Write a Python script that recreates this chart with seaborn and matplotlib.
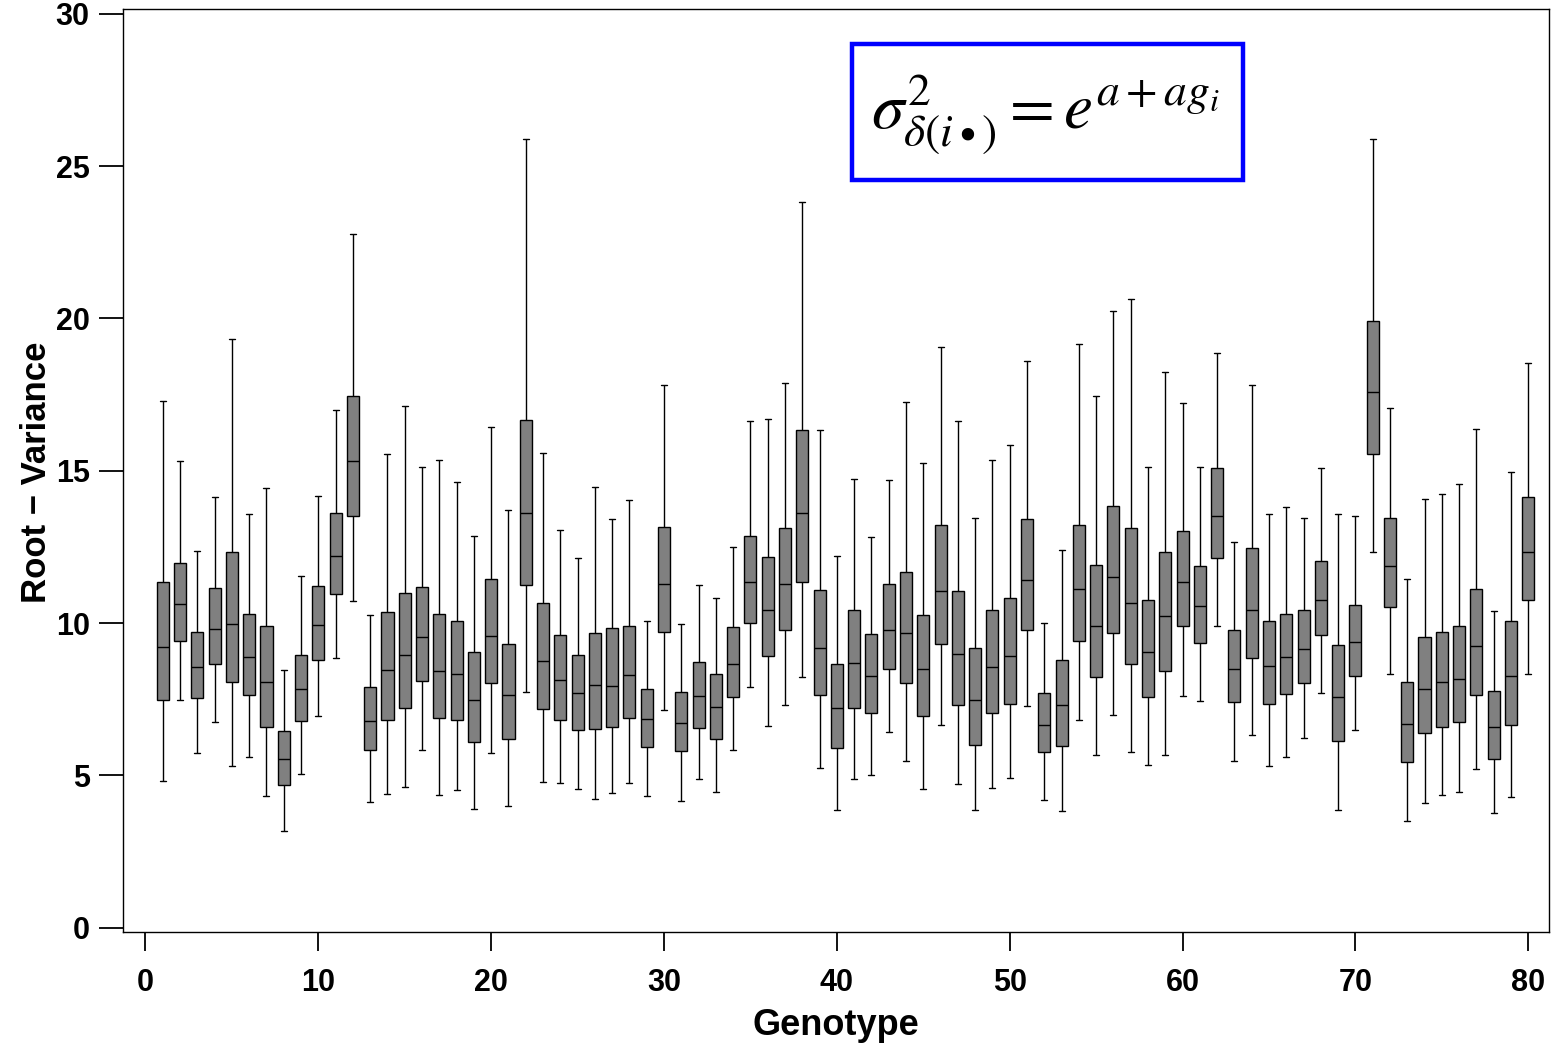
import numpy as np
import pandas as pd
import seaborn as sns
import matplotlib
matplotlib.use("Agg")
import matplotlib.pyplot as plt
from matplotlib.patches import Rectangle

# Per-genotype summary of the root-variance draws
genotype = list(range(1, 81))

whisker_low = [4.82, 7.49, 5.75, 6.76, 5.31, 5.60, 4.31, 3.18, 5.05, 6.95,
               8.85, 10.72, 4.14, 4.38, 4.61, 5.85, 4.36, 4.53, 3.91, 5.75,
               4.00, 7.73, 4.78, 4.75, 4.54, 4.22, 4.41, 4.74, 4.33, 7.16,
               4.17, 4.89, 4.46, 5.82, 7.89, 6.62, 7.30, 8.23, 5.25, 3.85,
               4.88, 5.02, 6.42, 5.47, 4.54, 6.64, 4.73, 3.88, 4.59, 4.92,
               7.27, 4.20, 3.84, 6.83, 5.66, 7.00, 5.76, 5.33, 5.66, 7.60,
               7.43, 9.89, 5.48, 6.33, 5.31, 5.61, 6.22, 7.69, 3.86, 6.49,
               12.33, 8.34, 3.51, 4.11, 4.35, 4.45, 5.20, 3.76, 4.29, 8.32]

q1 = [7.49, 9.42, 7.53, 8.67, 8.08, 7.64, 6.58, 4.67, 6.80, 8.80,
      10.94, 13.51, 5.85, 6.81, 7.20, 8.11, 6.88, 6.81, 6.10, 8.03,
      6.19, 11.25, 7.19, 6.83, 6.48, 6.54, 6.58, 6.90, 5.93, 9.70,
      5.79, 6.57, 6.19, 7.59, 10.02, 8.92, 9.77, 11.34, 7.65, 5.91,
      7.22, 7.04, 8.50, 8.02, 6.96, 9.33, 7.30, 6.01, 7.04, 7.35,
      9.77, 5.76, 5.96, 9.41, 8.24, 9.69, 8.65, 7.57, 8.44, 9.89,
      9.36, 12.13, 7.40, 8.84, 7.35, 7.68, 8.02, 9.61, 6.13, 8.28,
      15.56, 10.52, 5.43, 6.38, 6.60, 6.74, 7.63, 5.54, 6.66, 10.76]

median = [9.23, 10.62, 8.55, 9.82, 9.96, 8.88, 8.08, 5.53, 7.84, 9.93,
          12.19, 15.32, 6.79, 8.46, 8.95, 9.54, 8.43, 8.33, 7.49, 9.59,
          7.64, 13.63, 8.75, 8.14, 7.69, 7.97, 7.93, 8.30, 6.86, 11.28,
          6.72, 7.60, 7.24, 8.66, 11.34, 10.43, 11.28, 13.62, 9.18, 7.21,
          8.70, 8.28, 9.79, 9.69, 8.51, 11.07, 9.00, 7.48, 8.57, 8.92,
          11.40, 6.67, 7.30, 11.11, 9.92, 11.51, 10.66, 9.04, 10.22, 11.36,
          10.55, 13.51, 8.48, 10.44, 8.60, 8.90, 9.14, 10.75, 7.56, 9.39,
          17.58, 11.88, 6.68, 7.83, 8.06, 8.17, 9.25, 6.58, 8.27, 12.34]

q3 = [11.34, 11.97, 9.71, 11.15, 12.35, 10.30, 9.89, 6.46, 8.95, 11.23,
      13.60, 17.46, 7.89, 10.38, 10.99, 11.17, 10.29, 10.08, 9.05, 11.45,
      9.31, 16.67, 10.65, 9.61, 8.94, 9.67, 9.83, 9.89, 7.84, 13.14,
      7.75, 8.73, 8.34, 9.86, 12.85, 12.16, 13.13, 16.35, 11.08, 8.66,
      10.43, 9.64, 11.28, 11.67, 10.28, 13.23, 11.06, 9.18, 10.43, 10.83,
      13.41, 7.70, 8.80, 13.23, 11.92, 13.85, 13.13, 10.75, 12.34, 13.03,
      11.86, 15.08, 9.78, 12.45, 10.07, 10.31, 10.42, 12.05, 9.28, 10.58,
      19.91, 13.44, 8.08, 9.55, 9.72, 9.91, 11.13, 7.77, 10.07, 14.13]

whisker_high = [17.29, 15.32, 12.38, 14.14, 19.34, 13.59, 14.42, 8.46, 11.54, 14.18,
                16.99, 22.79, 10.25, 15.55, 17.12, 15.13, 15.35, 14.64, 12.85, 16.43,
                13.72, 25.89, 15.60, 13.07, 12.13, 14.47, 13.42, 14.03, 10.06, 17.82,
                9.97, 11.24, 10.83, 12.50, 16.62, 16.70, 17.88, 23.81, 16.35, 12.21,
                14.74, 12.84, 14.70, 17.26, 15.26, 19.05, 16.62, 13.44, 15.34, 15.85,
                18.60, 10.00, 12.39, 19.17, 17.46, 20.25, 20.65, 15.14, 18.24, 17.24,
                15.12, 18.87, 12.65, 17.82, 13.58, 13.82, 13.46, 15.09, 13.59, 13.50,
                25.89, 17.06, 11.46, 14.06, 14.24, 14.58, 16.38, 10.41, 14.95, 18.53]

x_ticks = [0, 10, 20, 30, 40, 50, 60, 70, 80]
y_ticks = [0, 5, 10, 15, 20, 25, 30]

# Five points per genotype reproduce min, quartiles, median and max exactly
rows = []
for g, lo, a, m, b, hi in zip(genotype, whisker_low, q1, median, q3, whisker_high):
    for v in (lo, a, m, b, hi):
        rows.append({"Genotype": g, "RootVariance": v})
df = pd.DataFrame(rows)

sns.set_theme(style="white")
plt.rcParams["font.family"] = ["Liberation Sans", "DejaVu Sans"]
plt.rcParams["mathtext.fontset"] = "stix"
plt.rcParams["text.color"] = "black"
plt.rcParams["axes.labelcolor"] = "black"
plt.rcParams["xtick.color"] = "black"
plt.rcParams["ytick.color"] = "black"

fig = plt.figure(figsize=(15.52, 10.48), dpi=100)
ax = fig.add_axes([123 / 1552, 1 - 932 / 1048, (1549 - 123) / 1552, (932 - 9) / 1048])

sns.boxplot(data=df, x="Genotype", y="RootVariance", native_scale=True,
            whis=(0, 100), width=0.7, color="#808080", saturation=1,
            linecolor="black", linewidth=1.0, fliersize=0, ax=ax)

ax.set_xlim(-1.3, 81.2)
ax.set_ylim(-0.14, 30.16)
ax.set_xticks(x_ticks)
ax.set_yticks(y_ticks)
ax.set_xticklabels([str(t) for t in x_ticks], fontsize=22, fontweight="bold", color="black")
ax.set_yticklabels([str(t) for t in y_ticks], fontsize=22, fontweight="bold", color="black")
ax.tick_params(axis="y", direction="out", length=17, width=1.3, pad=7, color="black", left=True)
ax.tick_params(axis="x", direction="out", length=14, width=1.3, pad=12, color="black", bottom=True)

for side in ["left", "right", "top", "bottom"]:
    ax.spines[side].set_visible(True)
    ax.spines[side].set_color("black")
    ax.spines[side].set_linewidth(1.0)

ax.set_xlabel("Genotype", fontsize=26, fontweight="bold", color="black")
ax.set_ylabel("Root \u2212 Variance", fontsize=25, fontweight="bold", color="black")
ax.xaxis.set_label_coords(0.5, -0.101)
ax.xaxis.label.set_va("center")
ax.yaxis.set_label_coords(-0.061, 0.498)
ax.yaxis.label.set_va("center")

# Variance model in a framed inset
ax.add_patch(Rectangle((40.9, 24.55), 22.6, 4.45, fill=False,
                       edgecolor="#0000ff", linewidth=3.2, zorder=5))
ax.text(52.05, 26.7, r"$\sigma^{2}_{\delta(i\bullet)} = e^{a+ag_i}$",
        fontsize=47, ha="center", va="center", color="black", zorder=6)

fig.savefig("out.png", dpi=100)
